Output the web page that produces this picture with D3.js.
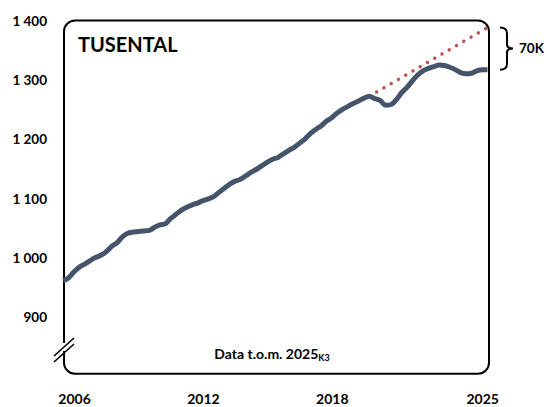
<!DOCTYPE html>
<html>
<head>
<meta charset="utf-8">
<script src="https://cdn.jsdelivr.net/npm/d3@7"></script>
<style>
  body { margin: 0; background: #fff; }
  text { font-family: Lato, "Open Sans", sans-serif; font-weight: bold; fill: #000; }
</style>
</head>
<body>
<div id="chart"></div>
<script>
// kvartalsvärden (tusental), 2005K4 .. 2025K3
var values = [
  962, 967, 977, 985, 990, 996, 1001, 1005, 1011, 1020,
  1026, 1036, 1042, 1044, 1045, 1046, 1047, 1052, 1056, 1058,
  1067, 1074, 1081, 1086, 1090, 1093, 1097, 1100, 1104, 1111,
  1118, 1125, 1130, 1133, 1139, 1145, 1150, 1156, 1162, 1167,
  1170, 1176, 1182, 1187, 1194, 1201, 1210, 1217, 1223, 1231,
  1237, 1245, 1251, 1256, 1261, 1265, 1270, 1273, 1269, 1266,
  1258, 1259, 1267, 1279, 1288, 1299, 1309, 1316, 1320, 1323,
  1326, 1325, 1322, 1318, 1313, 1311, 1312, 1316, 1318, 1318
];
var trendIdx = [57, 79];
var trendVals = [1273, 1389];
var yTicks = [900, 1000, 1100, 1200, 1300, 1400];
var xTickYears = [2006, 2012, 2018, 2025];
var title = "TUSENTAL";
var gapLabel = "70K";

var width = 547, height = 407;
var frame = {left: 64, top: 20.5, right: 489, bottom: 373.7};

var svg = d3.select("#chart").append("svg")
    .attr("width", width)
    .attr("height", height);

var x = d3.scaleLinear().domain([0, values.length - 1]).range([63.3, 487.5]);
var y = d3.scaleLinear().domain([900, 1400]).range([317.5, 21]);

// y-axel
var yAxis = d3.axisLeft(y).tickValues(yTicks).tickSize(0).tickPadding(0)
    .tickFormat(d => d3.format(",")(d).replace(",", " "));
svg.append("g")
    .attr("transform", "translate(47,0)")
    .call(yAxis)
    .call(g => g.select(".domain").remove())
    .selectAll("text")
    .attr("font-size", 13.5)
    .attr("font-family", "Lato, sans-serif")
    .attr("font-weight", "bold");

// x-axel: etiketter vid kvartal 2 av varje år
var xAxis = d3.axisBottom(x)
    .tickValues(xTickYears.map(yr => (yr - 2006) * 4 + 2))
    .tickSize(0).tickPadding(0)
    .tickFormat(d => String(2006 + (d - 2) / 4));
svg.append("g")
    .attr("transform", "translate(0,394)")
    .call(xAxis)
    .call(g => g.select(".domain").remove())
    .selectAll("text")
    .attr("font-size", 14)
    .attr("font-family", "Lato, sans-serif")
    .attr("font-weight", "bold");

// ram
svg.append("rect")
    .attr("x", frame.left)
    .attr("y", frame.top)
    .attr("width", frame.right - frame.left)
    .attr("height", frame.bottom - frame.top)
    .attr("rx", 11)
    .attr("fill", "none")
    .attr("stroke", "#000")
    .attr("stroke-width", 2);

// axelbrott
svg.append("rect")
    .attr("x", 61).attr("y", 343).attr("width", 6).attr("height", 8)
    .attr("fill", "#fff");
[0, 6].forEach(off => {
  svg.append("line")
      .attr("x1", 54).attr("y1", 356 + off)
      .attr("x2", 74).attr("y2", 338 + off)
      .attr("stroke", "#000")
      .attr("stroke-width", 1.6);
});

// trendlinje
svg.append("line")
    .attr("x1", x(trendIdx[0])).attr("y1", y(trendVals[0]))
    .attr("x2", x(trendIdx[1])).attr("y2", y(trendVals[1]))
    .attr("stroke", "#C0504D")
    .attr("stroke-width", 3.4)
    .attr("stroke-linecap", "round")
    .attr("stroke-dasharray", "0.1,8.3");

// serie
var line = d3.line()
    .x((d, i) => x(i))
    .y(d => y(d))
    .curve(d3.curveMonotoneX);

svg.append("path")
    .datum(values)
    .attr("d", line)
    .attr("fill", "none")
    .attr("stroke", "#44546A")
    .attr("stroke-width", 5)
    .attr("stroke-linejoin", "round");

// klammer
var bTop = y(trendVals[1]), bBot = y(values[values.length - 1]);
var bMid = (bTop + bBot) / 2;
var bx = 500, bw = 7;
svg.append("path")
    .attr("d", `M${bx},${bTop} Q${bx + bw},${bTop} ${bx + bw},${bTop + 6}
      L${bx + bw},${bMid - 4} Q${bx + bw},${bMid} ${bx + bw + 6},${bMid}
      Q${bx + bw},${bMid} ${bx + bw},${bMid + 4}
      L${bx + bw},${bBot - 6} Q${bx + bw},${bBot} ${bx},${bBot}`)
    .attr("fill", "none")
    .attr("stroke", "#000")
    .attr("stroke-width", 2);

svg.append("text")
    .attr("x", 519)
    .attr("y", bMid + 4.5)
    .attr("font-size", 13.5)
    .text(gapLabel);

svg.append("text")
    .attr("x", 78)
    .attr("y", 52)
    .attr("font-size", 20)
    .text(title);

var note = svg.append("text")
    .attr("x", 272)
    .attr("y", 359)
    .attr("text-anchor", "middle")
    .attr("font-size", 14);
note.append("tspan").text("Data t.o.m. 2025");
note.append("tspan").attr("font-size", 9).attr("dy", 2).text("K3");
</script>
</body>
</html>
